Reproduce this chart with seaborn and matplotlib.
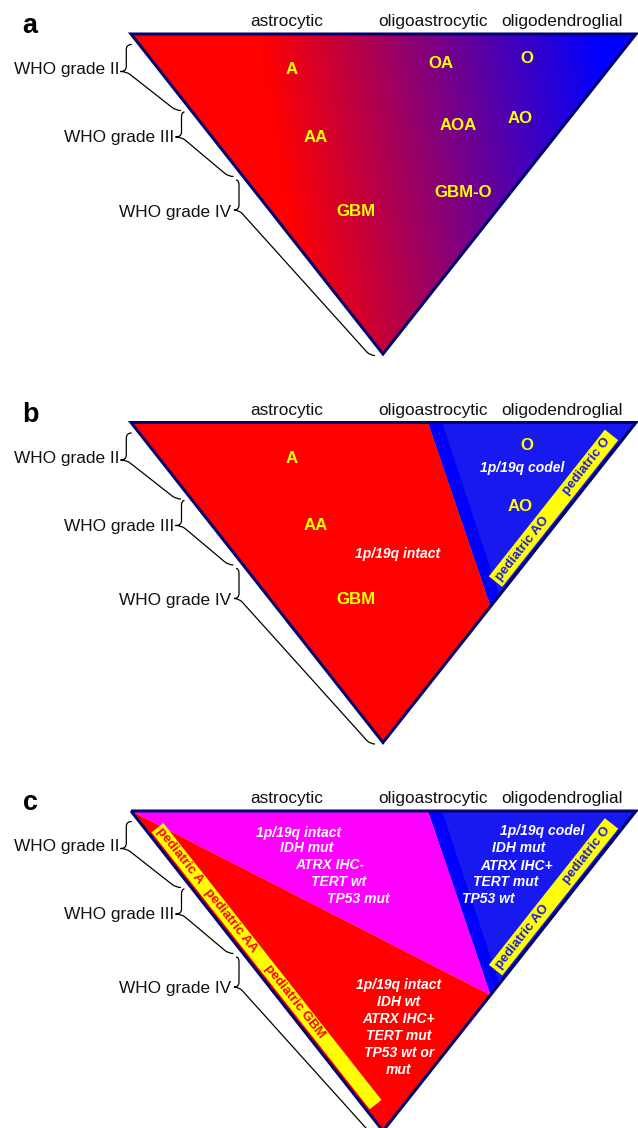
import numpy as np
import matplotlib
matplotlib.use("Agg")
import matplotlib.pyplot as plt
from matplotlib.patches import Polygon, PathPatch
from matplotlib.path import Path
import seaborn as sns

# ---------------- chart content ----------------
panel_letters = ["a", "b", "c"]
lineage_labels = ["astrocytic", "oligoastrocytic", "oligodendroglial"]
grade_labels = ["WHO grade II", "WHO grade III", "WHO grade IV"]
tumor_types_a = ["A", "OA", "O", "AA", "AOA", "AO", "GBM", "GBM-O"]
tumor_types_b = ["A", "AA", "GBM", "O", "AO"]
codeletion_status = ["1p/19q intact", "1p/19q codel"]
pediatric_oligo = ["pediatric AO", "pediatric O"]
pediatric_astro = ["pediatric A", "pediatric AA", "pediatric GBM"]
profile_idh_mut_astro = ["1p/19q intact", "IDH mut", "ATRX IHC-", "TERT wt", "TP53 mut"]
profile_oligo = ["1p/19q codel", "IDH mut", "ATRX IHC+", "TERT mut", "TP53 wt"]
profile_idh_wt = ["1p/19q intact", "IDH wt", "ATRX IHC+", "TERT mut", "TP53 wt or", "mut"]

# ---------------- style ----------------
sns.set_theme(style="white")
plt.rcParams["font.family"] = ["Liberation Sans", "DejaVu Sans"]

RED = "#ff0000"
BLUE = "#1818f0"
BLUE_BAND = "#0000ff"
MAGENTA = "#ff00ff"
YELLOW = "#ffff00"
NAVY = "#00006e"

PX = 0.72  # points per pixel at dpi 100
W, H = 638, 1128
fig = plt.figure(figsize=(W / 100, H / 100), dpi=100)
ax = fig.add_axes([0, 0, 1, 1])

OFFS = [0.0, 388.5, 777.0]
TLx, TOP, TRx, BVx, BVy = 131.0, 34.0, 636.0, 383.0, 354.0


def tri(oy):
    return np.array([[TLx, TOP + oy], [TRx, TOP + oy], [BVx, BVy + oy]])


def right_edge(along, perp, oy):
    B = np.array([BVx, BVy + oy])
    v = np.array([TRx - BVx, TOP - BVy])
    u = v / np.linalg.norm(v)
    n = np.array([u[1], -u[0]])  # inward (left-up)
    return B + along * u + perp * n


def left_edge(along, perp, oy):
    A = np.array([TLx, TOP + oy])
    v = np.array([BVx - TLx, BVy - TOP])
    u = v / np.linalg.norm(v)
    n = np.array([u[1], -u[0]])  # inward (right-up)
    return A + along * u + perp * n


def right_frac(f, oy):
    return (TRx + f * (BVx - TRx), TOP + oy + f * (BVy - TOP))


ang_right = np.degrees(np.arctan2(BVy - TOP, TRx - BVx))
ang_left = -np.degrees(np.arctan2(BVy - TOP, BVx - TLx))


def brace(S, A, T, E, oy, r=5.0):
    S = (S[0], S[1] + oy)
    T = (T[0], T[1] + oy)
    E = (E[0], E[1] + oy)
    P0 = np.array([A, T[1]])
    C = np.array([E[0] - r, E[1]])
    d = (C - P0) / np.linalg.norm(C - P0)
    L0 = P0 + r * d
    Q = C - r * d
    verts = [S, (A, S[1]), (A, S[1] + r), (A, T[1] - r), (A, T[1]), T,
             tuple(P0), tuple(L0), tuple(Q), tuple(C), E]
    codes = [Path.MOVETO, Path.CURVE3, Path.CURVE3, Path.LINETO, Path.CURVE3,
             Path.CURVE3, Path.CURVE3, Path.CURVE3, Path.LINETO, Path.CURVE3,
             Path.CURVE3]
    ax.add_patch(PathPatch(Path(verts, codes), fill=False, ec="black",
                           lw=0.9, zorder=3))


def common(oy, letter):
    ax.text(30, 33 + oy, letter, ha="center", va="baseline",
            fontsize=27 * PX, fontweight="bold", color="black")
    for lab, x in zip(lineage_labels, [286.5, 433, 562]):
        ax.text(x, 26 + oy, lab, ha="center", va="baseline",
                fontsize=17.3 * PX, color="#111111")
    for lab, x, y in zip(grade_labels, [119.5, 174.5, 231.5], [74, 142, 216.5]):
        ax.text(x, y + oy, lab, ha="right", va="baseline",
                fontsize=17.3 * PX, color="#111111")
    brace((131.7, 44.5), 126.3, (120.5, 71.5), (181, 110.5), oy)
    brace((184.5, 112), 181.5, (175.5, 137), (233.5, 176.5), oy)
    brace((236, 180), 239.0, (234.0, 210), (375, 355.5), oy)


def outline(oy):
    ax.add_patch(Polygon(tri(oy), closed=True, fill=False, ec=NAVY,
                         lw=3.0 * PX, joinstyle="miter", zorder=4))


def ylabel(x, y, s, oy, size=16.8, color=YELLOW, style="normal"):
    ax.text(x, y + oy, s, ha="center", va="baseline", fontsize=size * PX,
            fontweight="bold", fontstyle=style, color=color, zorder=5)


def strip_right(oy):
    pts = [right_edge(196, 3, oy), right_edge(383, 3, oy),
           right_edge(383, 20, oy), right_edge(196, 20, oy)]
    ax.add_patch(Polygon(pts, closed=True, fc=YELLOW, ec="none", zorder=2))
    for lab, al in zip(pediatric_oligo, [238.5, 343]):
        p = right_edge(al, 11.3, oy)
        ax.text(p[0], p[1], lab, rotation=ang_right, rotation_mode="anchor",
                ha="center", va="center", fontsize=13.3 * PX,
                fontweight="bold", color="#1a1ae6", zorder=5)


def oligo_region(oy):
    P = right_frac(0.575, oy)
    P2 = right_frac(0.54, oy)
    ax.add_patch(Polygon([(428, TOP + oy), (TRx, TOP + oy), P],
                         closed=True, fc=BLUE, ec="none", zorder=1))
    ax.add_patch(Polygon([(428, TOP + oy), (442, TOP + oy), P2, P],
                         closed=True, fc=BLUE_BAND, ec="none", zorder=1))
    return P


# ---------------- panel a: gradient ----------------
oy = OFFS[0]
xs = np.linspace(TLx, TRx, 506)
ys = np.linspace(TOP + oy, BVy + oy, 321)
X, Y = np.meshgrid(xs, ys)
t = np.clip(0.5 + 0.00294 * (X - 430) - 0.000458 * (Y - 40 - oy), 0, 1)
img = np.dstack([1 - t, np.zeros_like(t), t])
im = ax.imshow(img, extent=(TLx, TRx, BVy + oy, TOP + oy), origin="upper",
               interpolation="bilinear", zorder=1)
clip = Polygon(tri(oy), closed=True, transform=ax.transData)
im.set_clip_path(clip)
outline(oy)
common(oy, panel_letters[0])
for lab, (x, y) in zip(tumor_types_a, [(291.7, 74.3), (440.7, 67.7), (526.7, 62.7),
                                       (316, 142), (458.3, 130), (520, 123.3),
                                       (355.7, 216), (462.7, 196.7)]):
    ylabel(x, y, lab, oy)

# ---------------- panel b ----------------
oy = OFFS[1]
P = oligo_region(oy)
ax.add_patch(Polygon([(TLx, TOP + oy), (428, TOP + oy), P, (BVx, BVy + oy)],
                     closed=True, fc=RED, ec="none", zorder=1))
strip_right(oy)
outline(oy)
common(oy, panel_letters[1])
for lab, (x, y) in zip(tumor_types_b, [(291.7, 74.2), (316, 141.5), (355.7, 215.8),
                                       (526.7, 61.5), (520, 122.5)]):
    ylabel(x, y, lab, oy)
ylabel(398, 169.5, codeletion_status[0], oy, size=13.9, color="white", style="italic")
ylabel(521.7, 83.2, codeletion_status[1], oy, size=13.9, color="white", style="italic")

# ---------------- panel c ----------------
oy = OFFS[2]
P = oligo_region(oy)
ax.add_patch(Polygon([(TLx, TOP + oy), (428, TOP + oy), P],
                     closed=True, fc=MAGENTA, ec="none", zorder=1))
ax.add_patch(Polygon([(TLx, TOP + oy), P, (BVx, BVy + oy)],
                     closed=True, fc=RED, ec="none", zorder=1))
strip_right(oy)
pts = [left_edge(29.5, 3, oy), left_edge(382, 3, oy),
       left_edge(382, 18, oy), left_edge(29.5, 18, oy)]
ax.add_patch(Polygon(pts, closed=True, fc=YELLOW, ec="none", zorder=2))
for lab, al in zip(pediatric_astro, [65.5, 148.5, 251]):
    p = left_edge(al, 10.5, oy)
    ax.text(p[0], p[1], lab, rotation=ang_left, rotation_mode="anchor",
            ha="center", va="center", fontsize=13.3 * PX,
            fontweight="bold", color=RED, zorder=5)
outline(oy)
common(oy, panel_letters[2])

for lab, x, y in zip(profile_idh_mut_astro, [299, 306.5, 330, 339, 358.7],
                     [59.7, 74.7, 92, 108.7, 126.3]):
    ylabel(x, y, lab, oy, size=13.9, color="white", style="italic")
for lab, x, y in zip(profile_oligo, [542.5, 518.8, 516.3, 505.3, 488.5],
                     [58, 75.3, 92.7, 109, 126.3]):
    ylabel(x, y, lab, oy, size=13.9, color="white", style="italic")
for i, lab in enumerate(profile_idh_wt):
    ylabel(398.8, 212 + 17 * i, lab, oy, size=13.9, color="white", style="italic")

ax.set_xlim(0, W)
ax.set_ylim(H, 0)
ax.axis("off")
fig.savefig("out.png", dpi=100, facecolor="white")
